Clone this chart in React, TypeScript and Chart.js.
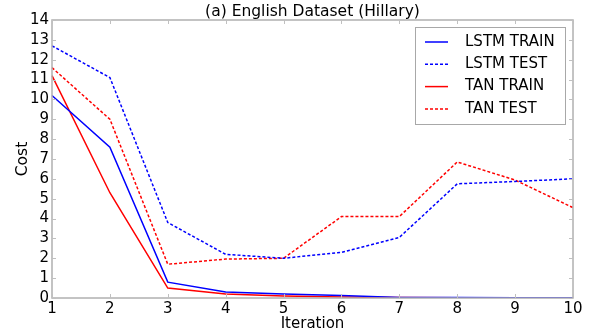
import React, { useEffect, useRef } from "react";
import { Chart, registerables } from "chart.js";

Chart.register(...registerables);

const iterations = ["1", "2", "3", "4", "5", "6", "7", "8", "9", "10"];
const lstmTrain = [10.2, 7.6, 0.8, 0.3, 0.2, 0.12, 0.03, 0.02, 0.01, 0.01];
const lstmTest = [12.7, 11.1, 3.8, 2.2, 2.0, 2.3, 3.05, 5.75, 5.87, 6.0];
const tanTrain = [11.2, 5.3, 0.5, 0.2, 0.1, 0.05, 0.02, 0.01, 0.01, 0.01];
const tanTest = [11.6, 9.0, 1.7, 1.96, 2.0, 4.1, 4.1, 6.85, 5.94, 4.55];
const titleText = "(a) English Dataset (Hillary)";
const FONT = "'DejaVu Sans', sans-serif";

const framePlugin = {
  id: "framePlugin",
  afterDraw(chart: any) {
    const { ctx, chartArea, scales } = chart;
    const { left, right, top, bottom } = chartArea;
    ctx.save();
    ctx.strokeStyle = "#b0b0b0";
    ctx.lineWidth = 1.5;
    ctx.strokeRect(left, top, right - left, bottom - top);
    ctx.lineWidth = 1;
    ctx.strokeStyle = "#c0c0c0";
    const xs = scales.x;
    for (let i = 0; i < xs.ticks.length; i++) {
      const px = Math.round(xs.getPixelForTick(i)) + 0.5;
      ctx.beginPath();
      ctx.moveTo(px, bottom);
      ctx.lineTo(px, bottom - 4);
      ctx.moveTo(px, top);
      ctx.lineTo(px, top + 4);
      ctx.stroke();
    }
    const ys = scales.y;
    for (let i = 0; i < ys.ticks.length; i++) {
      const py = Math.round(ys.getPixelForTick(i)) + 0.5;
      ctx.beginPath();
      ctx.moveTo(left, py);
      ctx.lineTo(left + 4, py);
      ctx.moveTo(right, py);
      ctx.lineTo(right - 4, py);
      ctx.stroke();
    }
    // title
    ctx.fillStyle = "#000";
    ctx.font = `15.5px ${FONT}`;
    ctx.textAlign = "center";
    ctx.textBaseline = "alphabetic";
    ctx.fillText(titleText, (left + right) / 2, top - 4);
    // legend
    const bx = right - 158;
    const by = top + 7;
    const bw = 150;
    const bh = 97;
    ctx.fillStyle = "#fff";
    ctx.fillRect(bx, by, bw, bh);
    ctx.strokeStyle = "#a8a8a8";
    ctx.lineWidth = 1;
    ctx.strokeRect(bx + 0.5, by + 0.5, bw, bh);
    ctx.font = `15px ${FONT}`;
    ctx.textAlign = "left";
    ctx.textBaseline = "middle";
    chart.data.datasets.forEach((ds: any, i: number) => {
      const yy = by + 15 + i * 22.3;
      ctx.strokeStyle = ds.borderColor;
      ctx.lineWidth = 1.5;
      ctx.setLineDash(ds.borderDash || []);
      ctx.beginPath();
      ctx.moveTo(bx + 10, yy);
      ctx.lineTo(bx + 33, yy);
      ctx.stroke();
      ctx.setLineDash([]);
      ctx.fillStyle = "#000";
      ctx.fillText(ds.label, bx + 50, yy);
    });
    ctx.restore();
  },
};

export default function App() {
  const ref = useRef<HTMLCanvasElement>(null);
  useEffect(() => {
    if (!ref.current) return;
    const mk = (label: string, data: number[], color: string, dash?: number[]) => ({
      label,
      data,
      borderColor: color,
      backgroundColor: color,
      borderWidth: 1.5,
      borderDash: dash || [],
      pointRadius: 0,
      tension: 0,
      fill: false,
    });
    const chart = new Chart(ref.current, {
      type: "line",
      data: {
        labels: iterations,
        datasets: [
          mk("LSTM TRAIN", lstmTrain, "#0000ff"),
          mk("LSTM TEST", lstmTest, "#0000ff", [3, 2]),
          mk("TAN TRAIN", tanTrain, "#ff0000"),
          mk("TAN TEST", tanTest, "#ff0000", [3, 2]),
        ],
      },
      options: {
        animation: false,
        responsive: false,
        layout: { padding: { top: 20, right: 16, left: 0, bottom: 0 } },
        plugins: { legend: { display: false }, tooltip: { enabled: false }, title: { display: false } },
        scales: {
          x: {
            grid: { display: false, drawTicks: false },
            border: { display: false },
            ticks: { color: "#000", font: { family: FONT, size: 15 }, padding: 2, maxRotation: 0, autoSkip: false },
            title: { display: true, text: "Iteration", color: "#000", font: { family: FONT, size: 15 }, padding: { top: 0, bottom: -3 } },
            afterFit: (s: any) => { s.height = 32; },
          },
          y: {
            min: 0,
            max: 14,
            grid: { display: false, drawTicks: false },
            border: { display: false },
            ticks: { stepSize: 1, color: "#000", font: { family: FONT, size: 15 }, padding: 3, autoSkip: false },
            title: { display: true, text: "Cost", color: "#000", font: { family: FONT, size: 15.5 }, padding: { top: 14, bottom: 0 } },
            afterFit: (s: any) => { s.width = 52; },
          },
        },
      },
      plugins: [framePlugin],
    });
    return () => chart.destroy();
  }, []);
  return (
    <div style={{ position: "absolute", left: 0, top: 0, width: 589, height: 330 }}>
      <canvas ref={ref} width={589} height={330} style={{ width: 589, height: 330 }} />
    </div>
  );
}
